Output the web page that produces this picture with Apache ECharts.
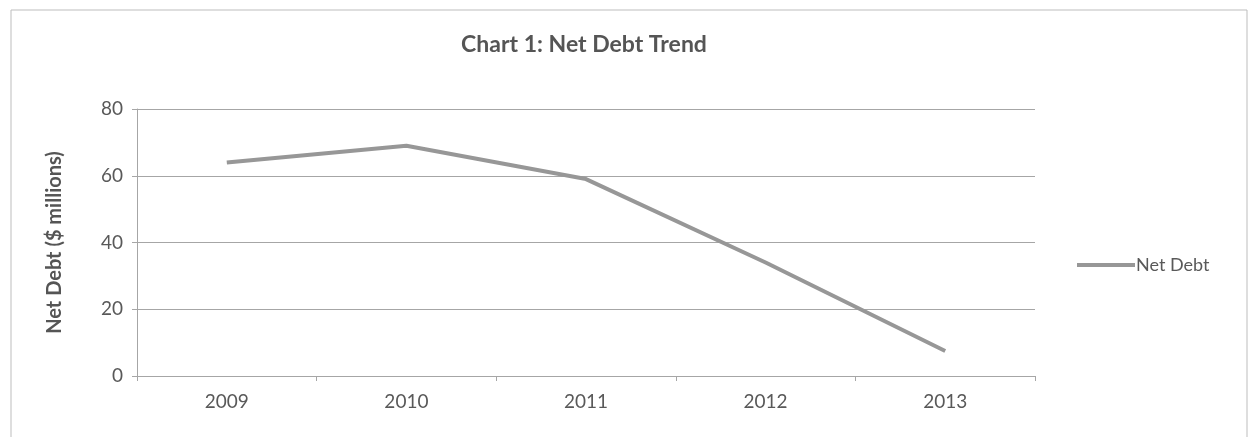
<!DOCTYPE html>
<html>
<head>
<meta charset="utf-8">
<script src="https://cdn.jsdelivr.net/npm/echarts@6/dist/echarts.min.js"></script>
<style>
  html, body { margin: 0; padding: 0; background: #fff; }
  #chart { width: 1256px; height: 437px; }
</style>
</head>
<body>
<div id="chart"></div>
<script>
const years = ['2009', '2010', '2011', '2012', '2013'];
const netDebt = [64, 69, 59, 34, 7.5];
const seriesName = 'Net Debt';

const chart = echarts.init(document.getElementById('chart'));
const font = 'Lato, "Open Sans", sans-serif';

chart.setOption({
  animation: false,
  backgroundColor: '#fff',
  graphic: [{
    type: 'rect',
    shape: {x: 11, y: 10, width: 1236, height: 440},
    style: {fill: 'none', stroke: '#bdbdbd', lineWidth: 1}
  }],
  title: {
    text: 'Chart 1: Net Debt Trend',
    left: 579,
    top: 28,
    textAlign: 'center',
    textStyle: {fontFamily: font, fontSize: 23, fontWeight: 'bold', color: '#555555'}
  },
  legend: {
    data: [seriesName],
    left: 1072,
    top: 251,
    itemWidth: 58,
    itemHeight: 4,
    itemGap: 2,
    icon: 'rect',
    textStyle: {fontFamily: font, fontSize: 18, color: '#595959', padding: [0, 0, 0, -4]}
  },
  grid: {left: 137, right: 221, top: 109, bottom: 61},
  xAxis: {
    type: 'category',
    data: years,
    boundaryGap: true,
    axisLine: {lineStyle: {color: '#a6a6a6', width: 1}},
    axisTick: {show: true, length: 5, lineStyle: {color: '#a6a6a6'}},
    axisLabel: {fontFamily: font, fontSize: 19, color: '#595959', margin: 16},
    splitLine: {show: false}
  },
  yAxis: {
    type: 'value',
    min: 0,
    max: 80,
    interval: 20,
    name: 'Net Debt ($ millions)',
    nameLocation: 'middle',
    nameGap: 72,
    nameTextStyle: {fontFamily: font, fontSize: 20, fontWeight: 'bold', color: '#555555'},
    axisLine: {show: true, lineStyle: {color: '#a6a6a6', width: 1}},
    axisTick: {show: true, length: 5, lineStyle: {color: '#a6a6a6'}},
    axisLabel: {fontFamily: font, fontSize: 19, color: '#595959', margin: 14},
    splitLine: {show: true, lineStyle: {color: '#a6a6a6', width: 1}}
  },
  series: [{
    name: seriesName,
    type: 'line',
    data: netDebt,
    symbol: 'none',
    lineStyle: {color: '#979797', width: 4},
    itemStyle: {color: '#979797'}
  }]
});
</script>
</body>
</html>
